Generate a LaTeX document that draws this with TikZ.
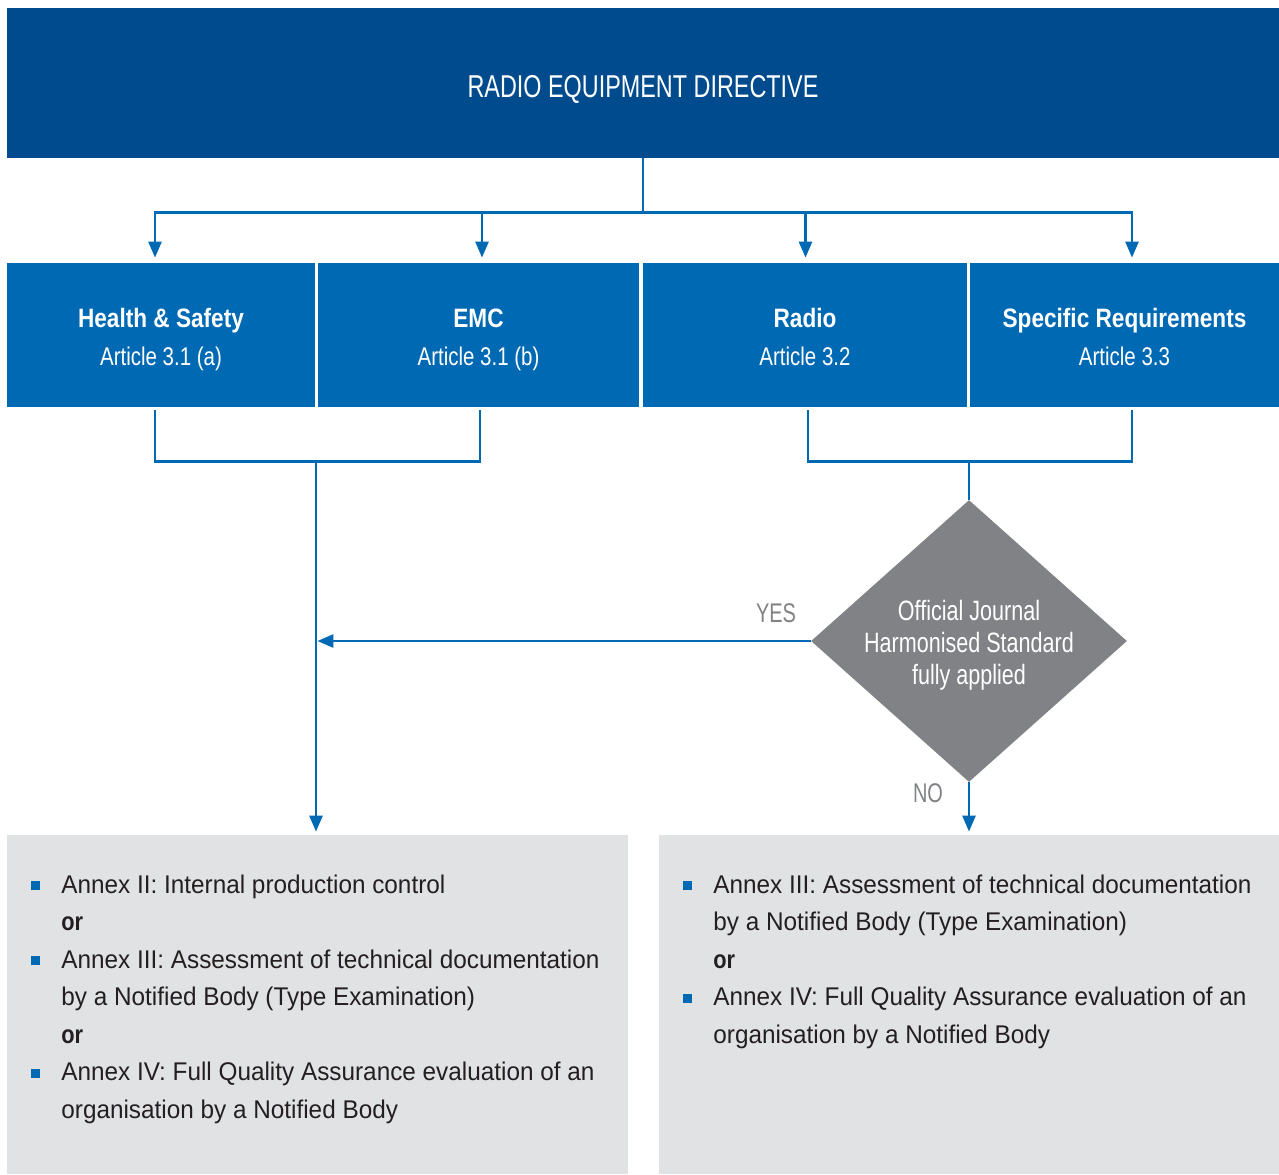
\documentclass[tikz,border=0pt]{standalone}
\usepackage{fontspec}
\setmainfont{Liberation Sans}[FakeStretch=0.95,BoldFeatures={FakeStretch=0.85}]
\newfontfamily\capfont{Liberation Sans}[FakeStretch=0.74]
\newfontfamily\litefont{Liberation Sans}[FakeStretch=0.8]
\newfontfamily\diafont{Liberation Sans}[FakeStretch=0.77]
\usetikzlibrary{positioning}
\usetikzlibrary{shapes.geometric}
\usetikzlibrary{arrows.meta}

\definecolor{navy}{HTML}{004B8D}
\definecolor{midblue}{HTML}{0069B4}
\definecolor{dgray}{HTML}{808285}
\definecolor{lgray}{HTML}{E1E2E4}
\definecolor{ink}{HTML}{231F20}

\newcommand{\bul}{\llap{\textcolor{midblue}{\rule[1.65pt]{4.5pt}{4.5pt}}\hspace{10.75pt}}}
\newcommand{\arttext}[2]{{\bfseries\rule{0pt}{13.7pt}#1}\\
  {\litefont\mdseries\fontsize{12.8}{19}\selectfont\rule[-2.7pt]{0pt}{2.7pt}#2}}

\begin{document}
\begin{tikzpicture}[x=0.5pt,y=-0.5pt,
  art/.style={fill=midblue,text=white,minimum height=72pt,inner sep=0pt,align=center,
    font=\fontsize{13.3}{19}\selectfont},
  annexbox/.style={fill=lgray,minimum height=169.5pt,inner sep=0pt},
  list/.style={anchor=base west,inner sep=0pt,align=left,text=ink,
    font=\fontsize{12.8}{18.75}\selectfont},
  dia/.style={diamond,fill=dgray,text=white,inner sep=-2pt,aspect=1.12,
    minimum width=158pt,minimum height=141pt,align=center,
    font=\diafont\fontsize{14}{16}\selectfont},
  lbl/.style={text=dgray,inner sep=0pt,font=\capfont\fontsize{13.5}{16}\selectfont},
  link/.style={draw=midblue,line width=1.3pt},
  arr/.style={link,-{Triangle[length=8pt,width=6.5pt]}}]
 \useasboundingbox (0,0) rectangle (1279,1174);

 % directive and the four articles
 \node[fill=navy,text=white,minimum width=636pt,minimum height=75pt,inner sep=0pt,
   text height=14.3pt,text depth=0pt,
   font=\capfont\fontsize{15.8}{19}\selectfont] (red) at (643,83) {RADIO EQUIPMENT DIRECTIVE};
 \node[art,minimum width=154pt] (hs) at (161,335) {\arttext{Health \& Safety}{Article 3.1 (a)}};
 \node[art,minimum width=160.5pt] (emc) at (478.5,335) {\arttext{EMC}{Article 3.1 (b)}};
 \node[art,minimum width=162pt] (radio) at (805,335) {\arttext{Radio}{Article 3.2}};
 \node[art,minimum width=154.5pt] (spec) at (1124.5,335) {\arttext{Specific Requirements}{Article 3.3}};

 % decision
 \node[dia] (oj) at (969,641) {\rule{0pt}{14.5pt}Official Journal\\Harmonised Standard\\fully applied};
 \node[lbl] (yes) at (776,613) {YES};
 \node[lbl] (no) at (928,793) {NO};

 % conformity routes
 \node[annexbox,minimum width=310.5pt] (lbox) at (317.5,1004.5) {};
 \node[annexbox,minimum width=310pt] (rbox) at (969,1004.5) {};
 \node[list] (ltext) at (61,1118.3) {\bul Annex II: Internal production control\\
   {\bfseries or}\\
   \bul Annex III: Assessment of technical documentation\\
   by a Notified Body (Type Examination)\\
   {\bfseries or}\\
   \bul Annex IV: Full Quality Assurance evaluation of an\\
   organisation by a Notified Body};
 \node[list] (rtext) at (713,1043.3) {\bul Annex III: Assessment of technical documentation\\
   by a Notified Body (Type Examination)\\
   {\bfseries or}\\
   \bul Annex IV: Full Quality Assurance evaluation of an\\
   organisation by a Notified Body};

 % connectors
 \coordinate (hub) at ([yshift=-27pt]red.south);
 \draw[link] (red.south) -- (hub);
 \foreach \b/\dx in {hs/-3pt,emc/1.75pt,radio/0.25pt,spec/3.75pt}
   \draw[arr,shorten >=2.5pt] (hub) -| ([xshift=\dx]\b.north);
 \draw[link] ([xshift=-3pt,yshift=-1.5pt]hs.south) -- ++(0,51) -| ([xshift=0.75pt,yshift=-1.5pt]emc.south);
 \draw[link] ([xshift=1.5pt,yshift=-1.5pt]radio.south) -- ++(0,51) -| ([xshift=3.75pt,yshift=-1.5pt]spec.south);
 \coordinate (lj) at (316,461);
 \coordinate (rj) at (969,461);
 \draw[arr,shorten >=1.5pt] (lj) -- (lj |- lbox.north);
 \draw[link] (rj) -- (oj.north);
 \draw[arr,shorten >=0.7pt] (oj.west) -- (oj.west -| lj);
 \draw[arr,shorten >=1.5pt] (oj.south) -- (rbox.north);
\end{tikzpicture}
\end{document}
